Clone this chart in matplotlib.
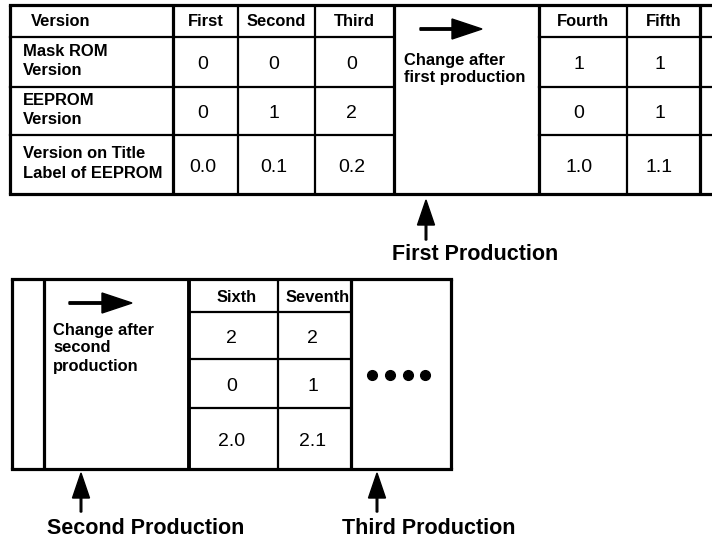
import matplotlib
matplotlib.use("Agg")
import matplotlib.pyplot as plt

plt.rcParams['font.family'] = ['Liberation Sans', 'DejaVu Sans']

# ─── Data ──────────────────────────────────────────────────────────────────────
row_labels   = ['Mask ROM\nVersion', 'EEPROM\nVersion', 'Version on Title\nLabel of EEPROM']
first_cols   = ['First', 'Second', 'Third']
first_vals   = [['0', '0', '0'], ['0', '1', '2'], ['0.0', '0.1', '0.2']]
second_cols  = ['Fourth', 'Fifth']
second_vals  = [['1', '1'], ['0', '1'], ['1.0', '1.1']]
third_cols   = ['Sixth', 'Seventh']
third_vals   = [['2', '2'], ['0', '1'], ['2.0', '2.1']]
change_notes = ['Change after\nfirst production', 'Change after\nsecond\nproduction']
productions  = ['First Production', 'Second Production', 'Third Production']

# ─── Layout (pixel coords) ─────────────────────────────────────────────────────
W, H = 712, 544
TOP_Y   = [5, 37, 87, 135, 194]          # header + 3 rows, top table
TOP_X1  = [10, 173, 238, 315, 394]       # label col + first/second/third
TOP_X2  = [539, 627, 700, 712]           # fourth/fifth + cut-off col
BOT_Y   = [279, 312, 359, 408, 469]
BOT_X   = [189, 278, 351]
THICK, THIN = 2.3, 1.6

fig = plt.figure(figsize=(W / 100, H / 100), dpi=100)
ax = fig.add_axes([0, 0, 1, 1])
ax.set_xlim(0, W)
ax.set_ylim(H, 0)
ax.axis('off')


def hline(y, x0, x1, lw=THIN):
    ax.plot([x0, x1], [y, y], color='black', lw=lw, solid_capstyle='projecting')


def vline(x, y0, y1, lw=THIN):
    ax.plot([x, x], [y0, y1], color='black', lw=lw, solid_capstyle='butt')


bold = dict(fontweight='bold', fontsize=11.9, color='black')
val = dict(fontsize=14, color='black', ha='center', va='center')
big = dict(fontweight='bold', fontsize=15.5, color='black', va='center')

# ─── Top table ─────────────────────────────────────────────────────────────────
hline(TOP_Y[0], TOP_X1[0], W, THICK)
hline(TOP_Y[-1], TOP_X1[0], W, THICK)
for y in TOP_Y[1:-1]:
    hline(y, TOP_X1[0], TOP_X1[-1])
    hline(y, TOP_X2[0], W)
vline(TOP_X1[0], TOP_Y[0], TOP_Y[-1], THICK)
vline(TOP_X1[1], TOP_Y[0], TOP_Y[-1], THICK)
for x in TOP_X1[2:4]:
    vline(x, TOP_Y[0], TOP_Y[-1])
vline(TOP_X1[-1], TOP_Y[0], TOP_Y[-1], THICK)
vline(TOP_X2[0], TOP_Y[0], TOP_Y[-1], THICK)
vline(TOP_X2[1], TOP_Y[0], TOP_Y[-1])
vline(TOP_X2[2], TOP_Y[0], TOP_Y[-1], THICK)

ax.text(61, 21, 'Version', ha='center', va='center', **bold)
for i, lab in enumerate(row_labels):
    ax.text(23, (TOP_Y[i + 1] + TOP_Y[i + 2]) / 2 - 1, lab, ha='left', va='center',
            linespacing=1.4, **bold)

for j, col in enumerate(first_cols):
    xc = (TOP_X1[j + 1] + TOP_X1[j + 2]) / 2
    ax.text(xc, 21, col, ha='center', va='center', **bold)
    for i in range(3):
        ax.text(xc - 3, (TOP_Y[i + 1] + TOP_Y[i + 2]) / 2 + 2.5, first_vals[i][j], **val)

for j, col in enumerate(second_cols):
    xc = (TOP_X2[j] + TOP_X2[j + 1]) / 2
    ax.text(xc, 22, col, ha='center', va='center', **bold)
    for i in range(3):
        ax.text(xc - 4, (TOP_Y[i + 1] + TOP_Y[i + 2]) / 2 + 2.5, second_vals[i][j], **val)

ax.arrow(420, 29, 62, 0, width=2.4, head_width=20, head_length=30,
         length_includes_head=True, color='black')
ax.text(404, 69, change_notes[0], ha='left', va='center', linespacing=1.2, **bold)

# ─── Bottom table ──────────────────────────────────────────────────────────────
BX0, BX1, BXR = 12, 44, 451
hline(BOT_Y[0], BX0, BXR, THICK)
hline(BOT_Y[-1], BX0, BXR, THICK)
for y in BOT_Y[1:-1]:
    ax.plot([BOT_X[0], BOT_X[-1]], [y, y], color='black', lw=THIN)
vline(BX0, BOT_Y[0], BOT_Y[-1], THICK)
vline(BX1, BOT_Y[0], BOT_Y[-1], THICK)
vline(BOT_X[0], BOT_Y[0], BOT_Y[-1], 2.8)
vline(BOT_X[1], BOT_Y[0], BOT_Y[-1])
vline(BOT_X[2], BOT_Y[0], BOT_Y[-1], THICK)
vline(BXR, BOT_Y[0], BOT_Y[-1], THICK)

for j, col in enumerate(third_cols):
    xc = (BOT_X[j] + BOT_X[j + 1]) / 2
    ax.text(xc + 3, 298, col, ha='center', va='center', **bold)
    for i in range(3):
        ax.text(xc - 2, (BOT_Y[i + 1] + BOT_Y[i + 2]) / 2 + 3, third_vals[i][j], **val)

ax.arrow(69, 303, 63, 0, width=2.4, head_width=20, head_length=30,
         length_includes_head=True, color='black')
ax.text(53, 348, change_notes[1], ha='left', va='center', linespacing=1.25, **bold)

ax.plot([372, 390, 408, 425], [375] * 4, 'o', color='black', ms=7)

# ─── Production markers ────────────────────────────────────────────────────────
for x, tip, tail in [(426, 200, 240), (81, 473, 512), (377, 473, 512)]:
    ax.arrow(x, tail, 0, tip - tail, width=1.6, head_width=17, head_length=25,
             length_includes_head=True, color='black')

ax.text(392, 254, productions[0], ha='left', **big)
ax.text(47, 528, productions[1], ha='left', **big)
ax.text(342, 528, productions[2], ha='left', **big)

fig.savefig('out.png', dpi=100)
